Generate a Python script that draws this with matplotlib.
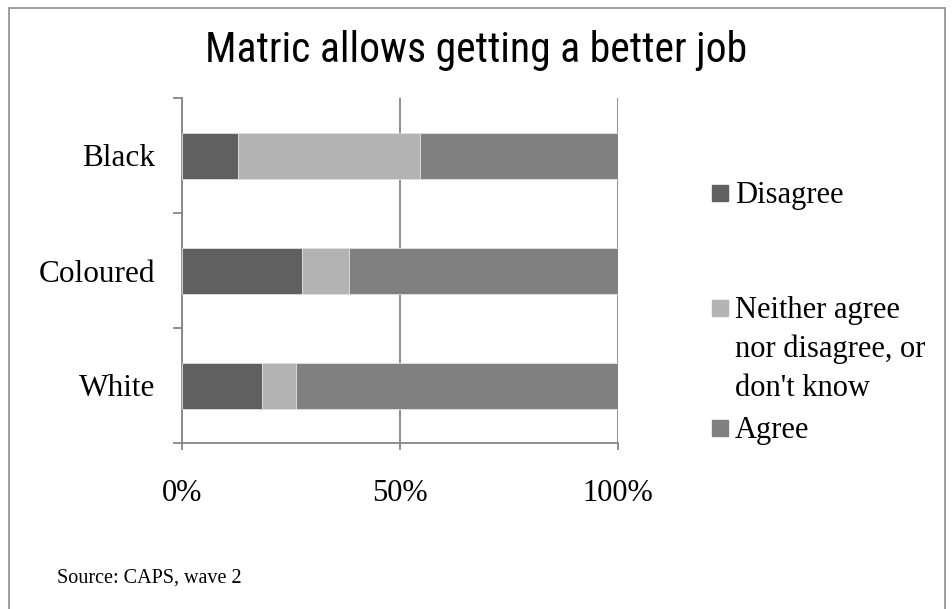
import matplotlib.pyplot as plt
from matplotlib import font_manager
from matplotlib.patches import Rectangle
from matplotlib.ticker import FixedLocator, PercentFormatter

# Data (shares of respondents)
groups = ["Black", "Coloured", "White"]
series = ["Disagree", "Neither agree\nnor disagree, or\ndon't know", "Agree"]
disagree = [0.128, 0.276, 0.183]
neither = [0.417, 0.108, 0.079]
agree = [0.455, 0.616, 0.738]
colors = ["#606060", "#b3b3b3", "#808080"]

installed = {f.name for f in font_manager.fontManager.ttflist}


def pick(cands):
    for c in cands:
        if c in installed:
            return c
    return cands[-1]


title_font = pick(["Liberation Sans Narrow", "DejaVu Sans Condensed",
                   "Roboto Condensed", "DejaVu Sans"])
serif = "Liberation Serif"

fig = plt.figure(figsize=(9.53, 6.09), dpi=100)
ax = fig.add_axes([182 / 953, 1 - 443 / 609, 436 / 953, 345 / 609])

# Stacked horizontal bars
y = list(range(len(groups)))
left = [0.0] * len(groups)
for vals, col in zip([disagree, neither, agree], colors):
    ax.barh(y, vals, left=left, height=0.4, color=col,
            edgecolor="#e0e0e0", linewidth=0.6, zorder=3)
    left = [l + v for l, v in zip(left, vals)]

ax.set_xlim(0, 1)
ax.set_ylim(2.5, -0.5)

# Axes styling
grey = "#868686"
for s in ["top", "right"]:
    ax.spines[s].set_visible(False)
for s in ["left", "bottom"]:
    ax.spines[s].set_color(grey)
    ax.spines[s].set_linewidth(1.3)

ax.xaxis.set_major_locator(FixedLocator([0, 0.5, 1.0]))
ax.xaxis.set_major_formatter(PercentFormatter(1.0, decimals=0))
ax.grid(axis="x", color=grey, linewidth=1.3, zorder=0)
ax.tick_params(axis="x", length=5, width=1.3, color=grey, pad=21,
               labelsize=22)

ax.yaxis.set_major_locator(FixedLocator([-0.5, 0.5, 1.5, 2.5]))
ax.yaxis.set_minor_locator(FixedLocator(y))
ax.set_yticklabels([], minor=False)
ax.set_yticklabels(groups, minor=True)
ax.tick_params(axis="y", which="major", length=6.7, width=1.3, color=grey)
ax.tick_params(axis="y", which="minor", length=0, pad=19.5, labelsize=22.5)

for lab in ax.get_xticklabels() + ax.get_yticklabels(minor=True):
    lab.set_fontfamily(serif)

# Title
title_size = 30 if title_font != "DejaVu Sans" else 24
fig.text(476 / 953, 1 - 62 / 609, "Matric allows getting a better job",
         ha="center", va="baseline", fontsize=title_size, family=title_font)

# Legend drawn by hand to keep Excel-like spacing
leg_square = [193, 308, 428]
leg_base = [[203], [318, 357, 396], [438]]
for lab, col, sq, bases in zip(series, colors, leg_square, leg_base):
    fig.patches.append(Rectangle((712 / 953, 1 - (sq + 8) / 609), 16 / 953, 16 / 609,
                                 transform=fig.transFigure, color=col))
    for line, b in zip(lab.split("\n"), bases):
        fig.text(735 / 953, 1 - b / 609, line, ha="left", va="baseline",
                 fontsize=22, family=serif)

# Source note
fig.text(57 / 953, 1 - 583 / 609, "Source: CAPS, wave 2", ha="left", va="baseline",
         fontsize=14.5, family=serif)

# Chart frame
fig.patches.append(Rectangle((9 / 953, -0.05), 936 / 953, 1.05 - 8 / 609,
                             transform=fig.transFigure, fill=False,
                             edgecolor="#8c8c8c", linewidth=1.2))

fig.savefig("out.png", dpi=100)
